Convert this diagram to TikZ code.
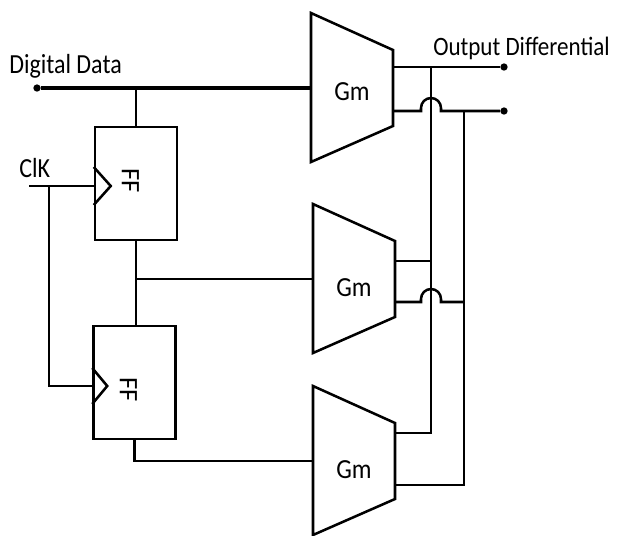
\documentclass[tikz,border=0pt]{standalone}
\usepackage{fontspec}
\setmainfont{Carlito}
\usetikzlibrary{calc, positioning}

\begin{document}
\begin{tikzpicture}[x=0.75pt,y=-0.75pt,
      wire/.style={line width=1.9pt,line join=miter},
      ffbox/.style={draw,line width=1.9pt,minimum width=61.5pt,minimum height=84.75pt,inner sep=0pt},
      gmtext/.style={inner sep=0pt,transform shape,yscale=1.12,font=\fontsize{18.5}{22}\selectfont},
      fftext/.style={inner sep=0pt,rotate=-90,font=\fontsize{20}{24}\selectfont},
      pin/.style={circle,fill,inner sep=0pt,minimum size=5.5pt},
      lab/.style={inner sep=0pt,transform shape,yscale=1.15,font=\fontsize{18}{22}\selectfont},
      outlab/.style={lab,font=\fontsize{17.3}{22}\selectfont}]
    \useasboundingbox (0,0) rectangle (622,536);

    % flip flops
    \node[ffbox] (A) at (136,183.5) {};
    \node[ffbox] (B) at (134.5,382.5) {};
    \node[fftext] (AT) at (130.5,180.5) {FF};
    \node[fftext] (BT) at (128.5,390) {FF};
    \draw[wire] ($(A.west)+(0,-16.5)$) -- ++(17,19) coordinate (AC) -- ++(-17,19);
    \draw[wire] ($(B.west)+(0,-14.5)$) -- ++(15,18) coordinate (BC) -- ++(-15,18);

    % transconductors
    \foreach \n/\px/\py/\ty/\t/\b in {G1/352/88/92/67/111,G2/354/279/288/261/302,G3/354/461/470/433/485} {
      \node[gmtext] (\n) at (\px,\ty) {Gm};
      \draw[wire] (\px-41,\py-75) -- (\px-41,\py+74) -- (\px+41,\py+38) -- (\px+41,\py-38) -- cycle;
      \coordinate (\n i) at (\px-41,\py);
      \coordinate (\n t) at (\px+41,\t);
      \coordinate (\n b) at (\px+41,\b);
    }

    % ports and labels
    \node[pin] (D) at (37,88) {};
    \node[pin] (O1) at (504,67) {};
    \node[pin] (O2) at (504,111) {};
    \coordinate (K) at (29,186);
    \coordinate (J1) at (431,67);
    \coordinate (J2) at (464,111);
    \node[lab,anchor=base west] (DL) at (9,73) {Digital Data};
    \node[outlab,anchor=base west] (OL) at (433,55) {Output Differential};
    \node[lab,anchor=base west] (KL) at (19,177) {ClK};

    % data path
    \draw[wire,line width=2.3pt] (D) -- (G1i);
    \draw[wire] (A.north |- G1i) -- (A.north);
    \draw[wire] (A.south) -- (B.north -| A.south);
    \draw[wire] (A.south |- G2i) -- (G2i);
    \draw[wire] (B.south) |- (G3i);

    % clock
    \draw[wire] (K) -- (A.west |- AC);
    \draw[wire] (K -| 49,0) -- (49,0 |- BC) -- (B.west |- BC);

    % outputs
    \draw[wire] (G1t) -- (O1);
    \draw[wire] (G1b) -- (421,111) -- ++(0,-3) arc[start angle=180,end angle=0,radius=7.5pt] -- ++(0,3) -- (O2);
    \draw[wire] (G2b) -- (421,302) -- ++(0,-3) arc[start angle=180,end angle=0,radius=7.5pt] -- ++(0,3) -- (464,302);
    \draw[wire] (G2t) -- (431,261);
    \draw[wire] (J1) |- (G3t);
    \draw[wire] (J2) |- (G3b);
  \end{tikzpicture}
\end{document}
